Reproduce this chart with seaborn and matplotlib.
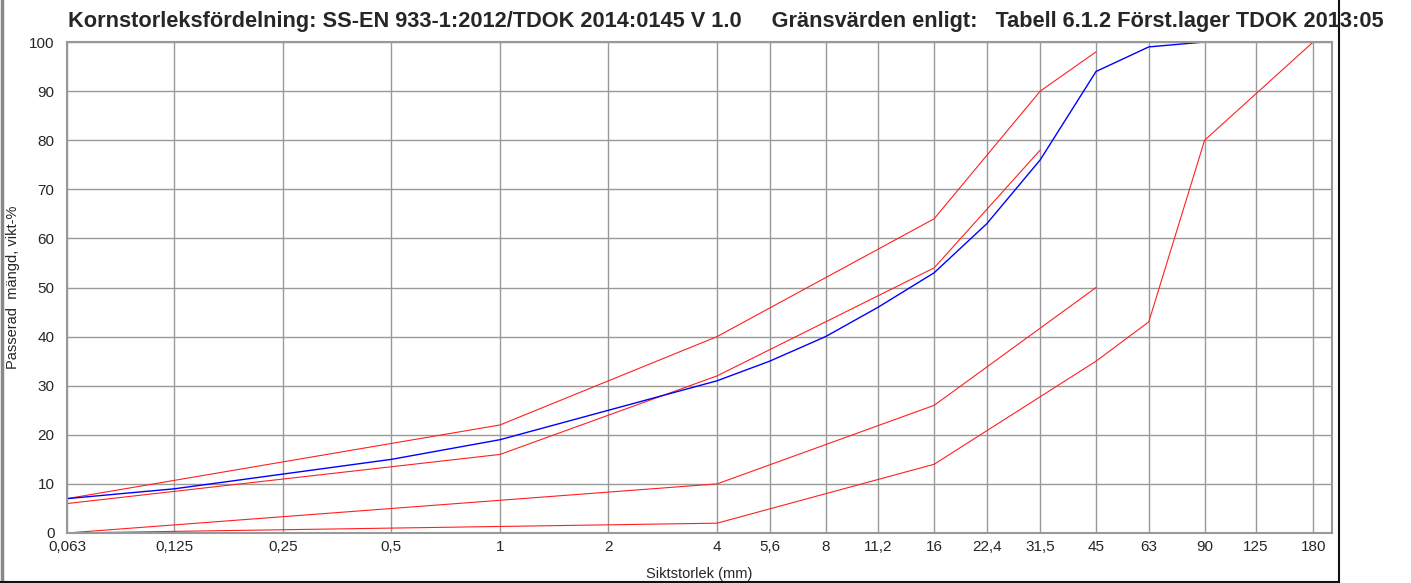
import numpy as np
import pandas as pd
import matplotlib
matplotlib.use("Agg")
import matplotlib.pyplot as plt
import seaborn as sns
from matplotlib.lines import Line2D
from matplotlib.ticker import FixedLocator, FixedFormatter, NullLocator

# ============================
# Data
# ============================
sieves = [0.063, 0.125, 0.25, 0.5, 1, 2, 4, 5.6, 8, 11.2, 16, 22.4, 31.5, 45, 63, 90, 125, 180]
sieve_labels = ["0,063", "0,125", "0,25", "0,5", "1", "2", "4", "5,6", "8", "11,2",
                "16", "22,4", "31,5", "45", "63", "90", "125", "180"]

# measured curve
sample_x = [0.063, 0.125, 0.25, 0.5, 1, 2, 4, 5.6, 8, 11.2, 16, 22.4, 31.5, 45, 63, 90]
sample_y = [7, 9, 12, 15, 19, 25, 31, 35, 40, 46, 53, 63, 76, 94, 99, 100]

# limit curves
upper_outer_x = [0.063, 1, 4, 16, 31.5, 45]
upper_outer_y = [7, 22, 40, 64, 90, 98]
upper_inner_x = [0.063, 1, 4, 16, 31.5]
upper_inner_y = [6, 16, 32, 54, 78]
lower_inner_x = [0.063, 4, 16, 45]
lower_inner_y = [0, 10, 26, 50]
lower_outer_x = [0.063, 4, 16, 45, 63, 90, 180]
lower_outer_y = [0, 2, 14, 35, 43, 80, 100]

y_ticks = list(range(0, 101, 10))

# ============================
# Figure
# ============================
sns.set_style("white")
plt.rcParams["font.family"] = ["Liberation Sans", "DejaVu Sans"]

fig = plt.figure(figsize=(14.11, 5.83), dpi=100)
W, H = 1411, 583
ax = fig.add_axes([67 / W, 1 - 533 / H, (1332 - 67) / W, (533 - 42) / H])

ax.set_xscale("log", base=2)

red = "#ff2020"
limits = [
    (upper_outer_x, upper_outer_y),
    (upper_inner_x, upper_inner_y),
    (lower_inner_x, lower_inner_y),
    (lower_outer_x, lower_outer_y),
]
for lx, ly in limits:
    sns.lineplot(x=lx, y=ly, ax=ax, color=red, lw=0.8, sort=False)

sns.lineplot(x=sample_x, y=sample_y, ax=ax, color="#0000ff", lw=1.0, sort=False)

ax.set_xlim(0.063, 203)
ax.set_ylim(0, 100)

ax.xaxis.set_major_locator(FixedLocator(sieves))
ax.xaxis.set_major_formatter(FixedFormatter(sieve_labels))
ax.xaxis.set_minor_locator(NullLocator())
ax.set_yticks(y_ticks)

ax.grid(True, color="#999999", lw=1.0)
ax.tick_params(length=0, labelsize=11)
ax.tick_params(axis="y", pad=9)
ax.tick_params(axis="x", pad=5)
for s in ax.spines.values():
    s.set_color("#999999")
    s.set_linewidth(1.5)

ax.set_xlabel("Siktstorlek (mm)", fontsize=10.5)
ax.xaxis.set_label_coords((699 - 67) / (1332 - 67), -(574 - 533) / (533 - 42))
ax.set_ylabel("Passerad  mängd, vikt-%", fontsize=10.5)
ax.yaxis.set_label_coords(-(67 - 13) / (1332 - 67), 0.5)
ax.xaxis.label.set_va("center")
ax.yaxis.label.set_va("center")

# outer frame (left, right, bottom)
fig.add_artist(Line2D([1.5 / W, 1.5 / W], [0, 1], transform=fig.transFigure,
                      color="#888888", lw=2.5))
fig.add_artist(Line2D([1339 / W, 1339 / W], [0, 1], transform=fig.transFigure,
                      color="#111111", lw=1.5))
fig.add_artist(Line2D([0, 1339 / W], [1.5 / H, 1.5 / H], transform=fig.transFigure,
                      color="#111111", lw=1.5))

fig.text(68 / W, 1 - 22 / H,
         "Kornstorleksfördelning: SS-EN 933-1:2012/TDOK 2014:0145 V 1.0     "
         "Gränsvärden enligt:   Tabell 6.1.2 Först.lager TDOK 2013:05",
         fontsize=15.7, fontweight="bold", ha="left", va="center")

fig.savefig("out.png", dpi=100)
